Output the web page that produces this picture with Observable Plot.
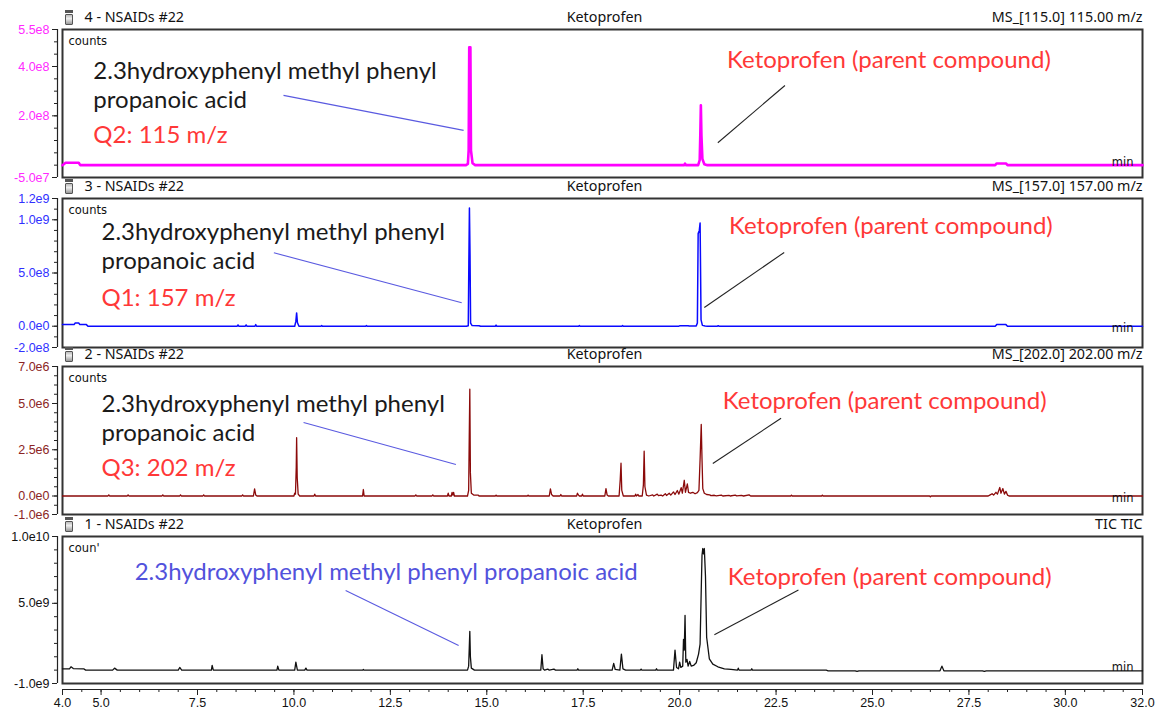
<!DOCTYPE html>
<html>
<head>
<meta charset="utf-8">
<script src="https://cdn.jsdelivr.net/npm/d3@7"></script>
<script src="https://cdn.jsdelivr.net/npm/@observablehq/plot@0.6"></script>
<style>
  body { margin: 0; background: #fff; }
  #chart { position: relative; width: 1158px; height: 712px; overflow: hidden; }
  #chart svg { position: absolute; left: 0; overflow: visible; }
  .vial { position: absolute; width: 6px; height: 9px; border: 1px solid #555; background: linear-gradient(#bbb, #eee 40%, #999); border-radius: 1px; }
  .vial::before { content: ""; position: absolute; left: -1px; top: -5px; width: 8px; height: 3px; background: #555; }
</style>
</head>
<body>
<div id="chart"></div>
<script>
// Retention-time axis (minutes)
const timeTicks = [4.0, 5.0, 7.5, 10.0, 12.5, 15.0, 17.5, 20.0, 22.5, 25.0, 27.5, 30.0, 32.0];

// Channel 4: MS 115 m/z — [time (min), counts]
const ms115 = [
  [4.00, 0], [4.08, 0.10e8], [4.42, 0.10e8], [4.46, 0],
  [14.46, 0], [14.51, 0.05e8], [14.53, 0.60e8], [14.545, 4.78e8], [14.575, 4.78e8], [14.59, 0.60e8], [14.63, 0.08e8], [14.70, 0],
  [20.12, 0], [20.14, 0.06e8], [20.16, 0],
  [20.48, 0], [20.52, 0.20e8], [20.535, 1.20e8], [20.55, 2.43e8], [20.565, 1.20e8], [20.59, 0.25e8], [20.64, 0.04e8], [20.72, 0],
  [28.18, 0], [28.22, 0.07e8], [28.46, 0.07e8], [28.50, 0], [32.00, 0]
];

// Channel 3: MS 157 m/z
const ms157 = [
  [4.00, 0.15e8], [4.30, 0.15e8], [4.33, 0.30e8], [4.42, 0.30e8], [4.45, 0.15e8], [4.62, 0.15e8], [4.66, 0],
  [8.53, 0], [8.55, 0.12e8], [8.57, 0], [8.74, 0], [8.76, 0.12e8], [8.78, 0], [8.99, 0], [9.01, 0.15e8], [9.03, 0],
  [10.02, 0], [10.05, 0.45e8], [10.07, 1.25e8], [10.09, 0.35e8], [10.13, 0],
  [10.70, 0], [10.72, 0.06e8], [10.74, 0], [11.86, 0], [11.88, 0.06e8], [11.90, 0],
  [14.47, 0], [14.52, 0.05e8], [14.535, 0.59e9], [14.55, 1.11e9], [14.565, 0.68e9], [14.58, 0.30e8], [14.62, 0.06e8], [14.80, 0.05e8], [14.84, 0],
  [15.22, 0], [15.24, 0.10e8], [15.26, 0], [17.38, 0], [17.40, 0.06e8], [17.42, 0], [18.50, 0], [18.52, 0.06e8], [18.54, 0],
  [19.98, 0], [20.00, 0.04e8], [20.22, 0.04e8], [20.25, 0.02e8],
  [20.43, 0.03e8], [20.46, 0.30e8], [20.48, 0.87e9], [20.51, 0.90e9], [20.53, 0.97e9], [20.555, 0.60e8], [20.59, 0.08e8], [20.66, 0.02e8], [20.72, 0],
  [20.98, 0], [21.00, 0.05e8], [21.02, 0],
  [28.18, 0], [28.22, 0.15e8], [28.46, 0.15e8], [28.50, 0], [32.00, 0]
];

// Channel 2: MS 202 m/z
const ms202 = [
  [4.00, 0], [5.18, 0], [5.20, 0.06e6], [5.22, 0], [5.68, 0], [5.70, 0.06e6], [5.72, 0],
  [6.58, 0], [6.60, 0.06e6], [6.62, 0], [7.04, 0], [7.06, 0.06e6], [7.08, 0], [7.64, 0], [7.66, 0.06e6], [7.68, 0],
  [8.65, 0], [8.67, 0.06e6], [8.69, 0], [8.95, 0], [8.98, 0.38e6], [9.01, 0.05e6], [9.04, 0],
  [10.00, 0], [10.02, 0.15e6], [10.04, 0.10e6], [10.06, 1.57e6], [10.07, 3.15e6], [10.085, 1.00e6], [10.11, 0.10e6], [10.15, 0],
  [10.52, 0], [10.54, 0.10e6], [10.56, 0], [11.78, 0], [11.80, 0.35e6], [11.82, 0],
  [13.14, 0], [13.16, 0.06e6], [13.18, 0], [13.58, 0], [13.60, 0.06e6], [13.62, 0],
  [13.98, 0], [14.00, 0.15e6], [14.02, 0], [14.08, 0], [14.10, 0.20e6], [14.12, 0.05e6], [14.14, 0.20e6], [14.16, 0],
  [14.50, 0], [14.53, 0.30e6], [14.545, 3.15e6], [14.56, 5.77e6], [14.575, 1.25e6], [14.60, 0.15e6], [14.66, 0.05e6], [14.78, 0.05e6], [14.80, 0],
  [15.22, 0], [15.24, 0.05e6], [15.26, 0], [16.05, 0], [16.07, 0.05e6], [16.09, 0],
  [16.62, 0], [16.65, 0.38e6], [16.68, 0.08e6], [16.72, 0], [16.90, 0], [16.92, 0.08e6], [16.94, 0],
  [17.33, 0], [17.35, 0.15e6], [17.38, 0.05e6], [17.40, 0], [17.46, 0], [17.48, 0.10e6], [17.50, 0],
  [18.06, 0], [18.09, 0.40e6], [18.12, 0.05e6], [18.15, 0],
  [18.43, 0], [18.46, 0.90e6], [18.48, 1.77e6], [18.50, 0.30e6], [18.54, 0],
  [18.84, 0], [18.86, 0.10e6], [18.88, 0], [18.92, 0.08e6], [18.94, 0],
  [19.03, 0], [19.06, 0.60e6], [19.08, 2.42e6], [19.10, 0.50e6], [19.14, 0.05e6], [19.20, 0],
  [19.30, 0.06e6], [19.33, 0], [19.42, 0.10e6], [19.45, 0.02e6], [19.52, 0.05e6], [19.56, 0], [19.63, 0.12e6], [19.66, 0.03e6],
  [19.73, 0.15e6], [19.77, 0.05e6], [19.84, 0.22e6], [19.88, 0.08e6], [19.94, 0.30e6], [19.98, 0.10e6],
  [20.04, 0.45e6], [20.07, 0.15e6], [20.12, 0.85e6], [20.15, 0.20e6], [20.20, 0.65e6], [20.23, 0.20e6], [20.28, 0.15e6],
  [20.34, 0.20e6], [20.40, 0.12e6], [20.46, 0.18e6],
  [20.50, 0.30e6], [20.53, 1.98e6], [20.56, 3.87e6], [20.58, 2.00e6], [20.60, 0.40e6], [20.64, 0.15e6], [20.70, 0.08e6],
  [20.78, 0.06e6], [20.81, 0.02e6], [20.90, 0.04e6], [20.95, 0.01e6], [21.08, 0.05e6], [21.12, 0], [21.28, 0.03e6], [21.31, 0],
  [21.44, 0.05e6], [21.48, 0.01e6], [21.60, 0.03e6], [21.66, 0], [21.80, 0.06e6], [21.84, 0],
  [22.88, 0], [22.90, 0.05e6], [22.92, 0], [23.68, 0], [23.70, 0.05e6], [23.72, 0],
  [26.48, 0], [26.50, -0.05e6], [26.52, 0],
  [28.00, 0], [28.04, 0.05e6], [28.10, 0.12e6], [28.14, 0.05e6], [28.20, 0.20e6], [28.24, 0.10e6], [28.30, 0.46e6],
  [28.33, 0.15e6], [28.38, 0.40e6], [28.42, 0.10e6], [28.46, 0.25e6], [28.50, 0.05e6], [28.54, 0], [32.00, 0]
];

// Channel 1: total ion current
const tic = [
  [4.00, 0.10e9], [4.18, 0.10e9], [4.22, 0.25e9], [4.28, 0.12e9], [4.55, 0.10e9], [4.60, 0],
  [5.30, 0], [5.35, 0.15e9], [5.42, 0], [7.00, 0], [7.04, 0.20e9], [7.09, 0], [7.86, 0], [7.88, 0.35e9], [7.91, 0],
  [9.56, 0], [9.58, 0.30e9], [9.61, 0], [10.02, 0], [10.05, 0.60e9], [10.09, 0], [10.28, 0], [10.31, 0.15e9], [10.34, 0],
  [11.78, 0], [11.80, 0.05e9], [11.82, 0],
  [14.50, 0], [14.53, 0.30e9], [14.545, 1.60e9], [14.56, 2.90e9], [14.575, 1.00e9], [14.60, 0.15e9], [14.68, 0],
  [16.40, 0], [16.43, 1.15e9], [16.46, 0.10e9], [16.50, 0], [16.58, 0.08e9], [16.62, 0], [16.74, 0.08e9], [16.78, 0],
  [17.34, 0], [17.36, 0.10e9], [17.38, 0],
  [18.25, 0], [18.29, 0.50e9], [18.33, 0.05e9], [18.45, 0], [18.49, 1.20e9], [18.53, 0.10e9], [18.60, 0],
  [18.98, 0], [19.00, 0.08e9], [19.02, 0], [19.38, 0], [19.40, 0.10e9], [19.42, 0],
  [19.84, 0], [19.88, 1.50e9], [19.92, 0.20e9], [19.97, 0.10e9], [20.00, 0.60e9], [20.03, 0.20e9], [20.08, 0.30e9],
  [20.10, 2.30e9], [20.12, 1.50e9], [20.14, 4.10e9], [20.16, 0.60e9], [20.19, 0.80e9], [20.22, 0.30e9], [20.26, 0.65e9],
  [20.30, 0.30e9], [20.36, 0.35e9], [20.43, 0.55e9], [20.49, 1.20e9], [20.53, 1.95e9], [20.56, 6.00e9], [20.58, 8.60e9],
  [20.60, 9.10e9], [20.62, 8.70e9], [20.64, 9.10e9], [20.67, 7.00e9], [20.70, 2.46e9], [20.77, 0.85e9], [20.86, 0.45e9],
  [20.99, 0.25e9], [21.16, 0.10e9], [21.33, 0.05e9], [21.50, 0], [21.52, 0.15e9], [21.54, 0], [21.85, 0], [21.87, 0.10e9], [21.89, 0],
  [23.80, 0], [23.85, -0.05e9], [24.55, -0.05e9], [24.60, -0.10e9], [24.65, -0.05e9],
  [26.75, -0.05e9], [26.80, 0.30e9], [26.85, -0.05e9], [27.85, -0.05e9], [27.90, -0.10e9], [27.95, -0.05e9], [32.00, -0.05e9]
];

// Peak annotations: anchor (time, counts) of each text block
const notes115 = [
  {time: 4.80, counts: 3.80e8, text: "2.3hydroxyphenyl methyl phenyl", role: "metabolite"},
  {time: 4.80, counts: 2.62e8, text: "propanoic acid", role: "metabolite"},
  {time: 4.80, counts: 1.20e8, text: "Q2: 115 m/z", role: "ion"},
  {time: 21.23, counts: 4.24e8, text: "Ketoprofen (parent compound)", role: "parent"}
];
const notes157 = [
  {time: 5.01, counts: 8.80e8, text: "2.3hydroxyphenyl methyl phenyl", role: "metabolite"},
  {time: 5.01, counts: 6.10e8, text: "propanoic acid", role: "metabolite"},
  {time: 5.01, counts: 2.60e8, text: "Q1: 157 m/z", role: "ion"},
  {time: 21.28, counts: 9.37e8, text: "Ketoprofen (parent compound)", role: "parent"}
];
const notes202 = [
  {time: 5.01, counts: 4.95e6, text: "2.3hydroxyphenyl methyl phenyl", role: "metabolite"},
  {time: 5.01, counts: 3.40e6, text: "propanoic acid", role: "metabolite"},
  {time: 5.01, counts: 1.47e6, text: "Q3: 202 m/z", role: "ion"},
  {time: 21.12, counts: 5.10e6, text: "Ketoprofen (parent compound)", role: "parent"}
];
const notesTic = [
  {time: 5.87, counts: 7.30e9, text: "2.3hydroxyphenyl methyl phenyl propanoic acid", role: "metaboliteTic"},
  {time: 21.25, counts: 6.93e9, text: "Ketoprofen (parent compound)", role: "parent"}
];

// Leader lines from the labels to the peaks
const leaders115 = [
  {t1: 9.73, c1: 2.83e8, t2: 14.40, c2: 1.41e8, role: "metabolite"},
  {t1: 20.99, c1: 0.91e8, t2: 22.73, c2: 3.23e8, role: "parent"}
];
const leaders157 = [
  {t1: 9.48, c1: 6.90e8, t2: 14.35, c2: 2.20e8, role: "metabolite"},
  {t1: 20.64, c1: 1.76e8, t2: 22.71, c2: 6.93e8, role: "parent"}
];
const leaders202 = [
  {t1: 10.25, c1: 3.97e6, t2: 14.20, c2: 1.70e6, role: "metabolite"},
  {t1: 20.86, c1: 1.76e6, t2: 22.63, c2: 4.20e6, role: "parent"}
];
const leadersTic = [
  {t1: 11.34, c1: 5.96e9, t2: 14.27, c2: 1.84e9, role: "metabolite"},
  {t1: 20.90, c1: 2.64e9, t2: 23.08, c2: 6.00e9, role: "parent"}
];

// Y ticks per channel
const yTicks115 = [5.5e8, 4.0e8, 2.0e8, -5.0e7];
const yTicks157 = [1.2e9, 1.0e9, 5.0e8, 0, -2.0e8];
const yTicks202 = [7.0e6, 5.0e6, 2.5e6, 0, -1.0e6];
const yTicksTic = [1.0e10, 5.0e9, -1.0e9];

const headers = [
  {run: "4 - NSAIDs #22", name: "Ketoprofen", channel: "MS_[115.0] 115.00 m/z"},
  {run: "3 - NSAIDs #22", name: "Ketoprofen", channel: "MS_[157.0] 157.00 m/z"},
  {run: "2 - NSAIDs #22", name: "Ketoprofen", channel: "MS_[202.0] 202.00 m/z"},
  {run: "1 - NSAIDs #22", name: "Ketoprofen", channel: "TIC TIC"}
];

const textColor = {metabolite: "#1a1a1a", ion: "#ff3838", parent: "#ff3838", metaboliteTic: "#5252dc"};
const leaderColor = {metabolite: "#5a5ae0", parent: "#222"};

const panels = [
  {trace: ms115, notes: notes115, leaders: leaders115, ticks: yTicks115, domain: [-5e7, 5.5e8], minor: 5e7,
   line: "#ff00ff", lineWidth: 2.6, tickText: "#ff2aff", top: 29, h: 148, unit: "counts", minDy: -3},
  {trace: ms157, notes: notes157, leaders: leaders157, ticks: yTicks157, domain: [-2e8, 1.2e9], minor: 1e8,
   line: "#0a0aff", lineWidth: 1.5, tickText: "#3030ff", top: 198, h: 149, unit: "counts", minDy: 2},
  {trace: ms202, notes: notes202, leaders: leaders202, ticks: yTicks202, domain: [-1e6, 7e6], minor: 5e5,
   line: "#8b0a0a", lineWidth: 1.3, tickText: "#8b2424", top: 366, h: 148, unit: "counts", minDy: 2},
  {trace: tic, notes: notesTic, leaders: leadersTic, ticks: yTicksTic, domain: [-1e9, 1e10], minor: 1e9,
   line: "#111", lineWidth: 1.3, tickText: "#111", top: 536, h: 147, unit: "coun'", minDy: -3}
];

const sci = d => d.toExponential(1).replace("e+", "e");
const blank = () => "";
const chart = document.getElementById("chart");
const headFont = "'Noto Sans', 'Open Sans', sans-serif";
const noteFont = "Lato, 'Open Sans', sans-serif";
const tickFont = "'Liberation Sans', Arial, sans-serif";

panels.forEach((p, i) => {
  const last = i === panels.length - 1;
  const marginTop = 20;
  const marginBottom = last ? 29 : 2;
  const minorY = d3.range(Math.ceil(p.domain[0] / p.minor) * p.minor, p.domain[1] + p.minor / 2, p.minor);
  const hdr = headers[i];
  const marks = [
    Plot.frame({stroke: "#333", strokeWidth: 2}),
    // y axis: line, minor ticks, major ticks with labels
    Plot.ruleX([4], {y1: p.domain[0], y2: p.domain[1], dx: -5, stroke: "#222", strokeWidth: 1.2}),
    Plot.axisY(minorY, {anchor: "left", tickSize: 3, dx: -5, tickFormat: blank, stroke: "#222"}),
    Plot.axisY(p.ticks, {anchor: "left", tickSize: 5, tickPadding: 3, dx: -5, tickFormat: sci, stroke: "#222",
      fill: p.tickText, fontSize: 12.5, fontFamily: tickFont}),
    // header row above the box
    Plot.text([hdr.run], {frameAnchor: "top-left", dx: 22, dy: -12, textAnchor: "start", lineAnchor: "middle",
      fontSize: 14.3, fontFamily: headFont, fill: "#111"}),
    Plot.text([hdr.name], {frameAnchor: "top", dx: 2, dy: -12, lineAnchor: "middle",
      fontSize: 14.3, fontFamily: headFont, fill: "#111"}),
    Plot.text([hdr.channel], {frameAnchor: "top-right", dy: -12, textAnchor: "end", lineAnchor: "middle",
      fontSize: 14.3, fontFamily: headFont, fill: "#111"}),
    Plot.text([p.unit], {frameAnchor: "top-left", dx: 6, dy: 12, textAnchor: "start", lineAnchor: "middle",
      fontSize: 11.5, fontFamily: "Tahoma, 'DejaVu Sans', sans-serif", fill: "#111"}),
    // leader lines and labels
    Plot.link(p.leaders, {x1: "t1", y1: "c1", x2: "t2", y2: "c2", stroke: d => leaderColor[d.role], strokeWidth: 1.1}),
    Plot.text(p.notes, {x: "time", y: "counts", text: "text", textAnchor: "start", lineAnchor: "middle",
      fill: d => textColor[d.role], fontSize: 24, fontFamily: noteFont}),
    // chromatogram trace
    Plot.line(p.trace, {x: d => d[0], y: d => d[1], stroke: p.line, strokeWidth: p.lineWidth, strokeLinejoin: "round"}),
    Plot.text([{t: 32, c: 0}], {x: "t", y: "c", text: () => "min", textAnchor: "end", lineAnchor: "middle",
      dx: -9, dy: p.minDy, fontSize: 11.5, fontFamily: "Tahoma, 'DejaVu Sans', sans-serif", fill: "#111"})
  ];
  if (last) {
    const minorX = d3.range(4, 32.01, 0.5);
    marks.push(
      Plot.ruleY([p.domain[0]], {x1: 4, x2: 32, dy: 6, stroke: "#222", strokeWidth: 1.2}),
      Plot.axisX(minorX, {anchor: "bottom", tickSize: 3, dy: 6, tickFormat: blank, stroke: "#222"}),
      Plot.axisX(timeTicks, {anchor: "bottom", tickSize: 6, tickPadding: 3, dy: 6, tickFormat: d => d.toFixed(1),
        fill: "#111", stroke: "#222", fontSize: 12.5, fontFamily: tickFont})
    );
  }
  const svg = Plot.plot({
    width: 1158,
    height: marginTop + p.h + marginBottom,
    marginLeft: 62, marginRight: 16, marginTop, marginBottom,
    x: {domain: [4, 32], axis: null},
    y: {domain: p.domain, axis: null},
    style: {background: "transparent", overflow: "visible"},
    marks
  });
  svg.style.top = (p.top - marginTop) + "px";
  chart.appendChild(svg);

  const vial = document.createElement("div");
  vial.className = "vial";
  vial.style.left = "65px";
  vial.style.top = (p.top - 15) + "px";
  chart.appendChild(vial);
});
</script>
</body>
</html>
